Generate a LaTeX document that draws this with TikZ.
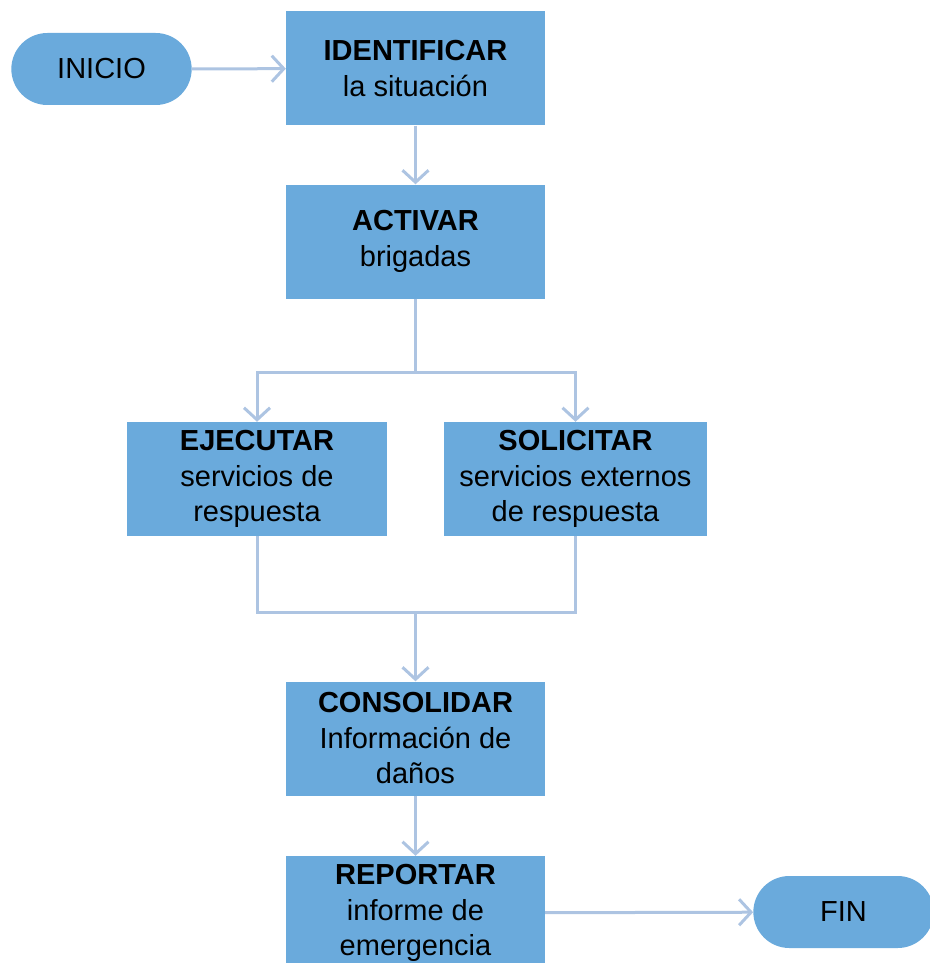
\documentclass[tikz,border=0pt]{standalone}
\usepackage{fontspec}
\setmainfont{Liberation Sans}
\usetikzlibrary{arrows.meta,shapes.misc}
\definecolor{caja}{HTML}{6AAADC}
\definecolor{trazo}{HTML}{ADC4E2}
\begin{document}
\begin{tikzpicture}[x=1pt,y=-1pt,
	paso/.style={fill=caja,minimum width=259pt,minimum height=114pt,align=center,inner sep=2pt,font=\fontsize{29}{35.5}\selectfont},
	extremo/.style={rounded rectangle,fill=caja,minimum width=187pt,minimum height=72pt,font=\fontsize{29}{35.5}\selectfont},
	linea/.style={draw=trazo,line width=3pt},
	flecha/.style={linea,-{Straight Barb[length=12pt,width=26pt]}}]
			\useasboundingbox(0,0)rectangle(929,963);
			\node[extremo](inicio)at(101.5,69){INICIO};
			\node[paso](identificar)at(415.5,68.5){\textbf{IDENTIFICAR}\\la situación};
			\node[paso](activar)at(415.5,241.5){\textbf{ACTIVAR}\\brigadas};
			\node[paso,minimum width=260pt](ejecutar)at(257,479){\textbf{EJECUTAR}\\servicios de\\respuesta};
			\node[paso,minimum width=263pt](solicitar)at(575.5,479){\textbf{SOLICITAR}\\servicios externos\\de respuesta};
			\node[paso](consolidar)at(415.5,738.5){\textbf{CONSOLIDAR}\\Información de\\daños};
			\node[paso](reportar)at(415.5,913){\textbf{REPORTAR}\\informe de\\emergencia};
			\node[extremo](fin)at(843.5,912){FIN};
			% conectores
			\coordinate(bifurca)at(415.5,372);
			\coordinate(une)at(415.5,612);
			\draw[flecha](inicio)--(identificar);
			\draw[flecha](identificar)--(activar);
			\draw[linea](activar)--(bifurca);
			\draw[flecha](bifurca)-|(ejecutar);
			\draw[flecha](bifurca)-|(solicitar);
			\draw[linea](ejecutar)|-(une);
			\draw[linea](solicitar)|-(une);
			\draw[flecha](une)--(consolidar);
			\draw[flecha](consolidar)--(reportar);
			\draw[flecha](reportar)--(fin);
		\end{tikzpicture}
\end{document}
